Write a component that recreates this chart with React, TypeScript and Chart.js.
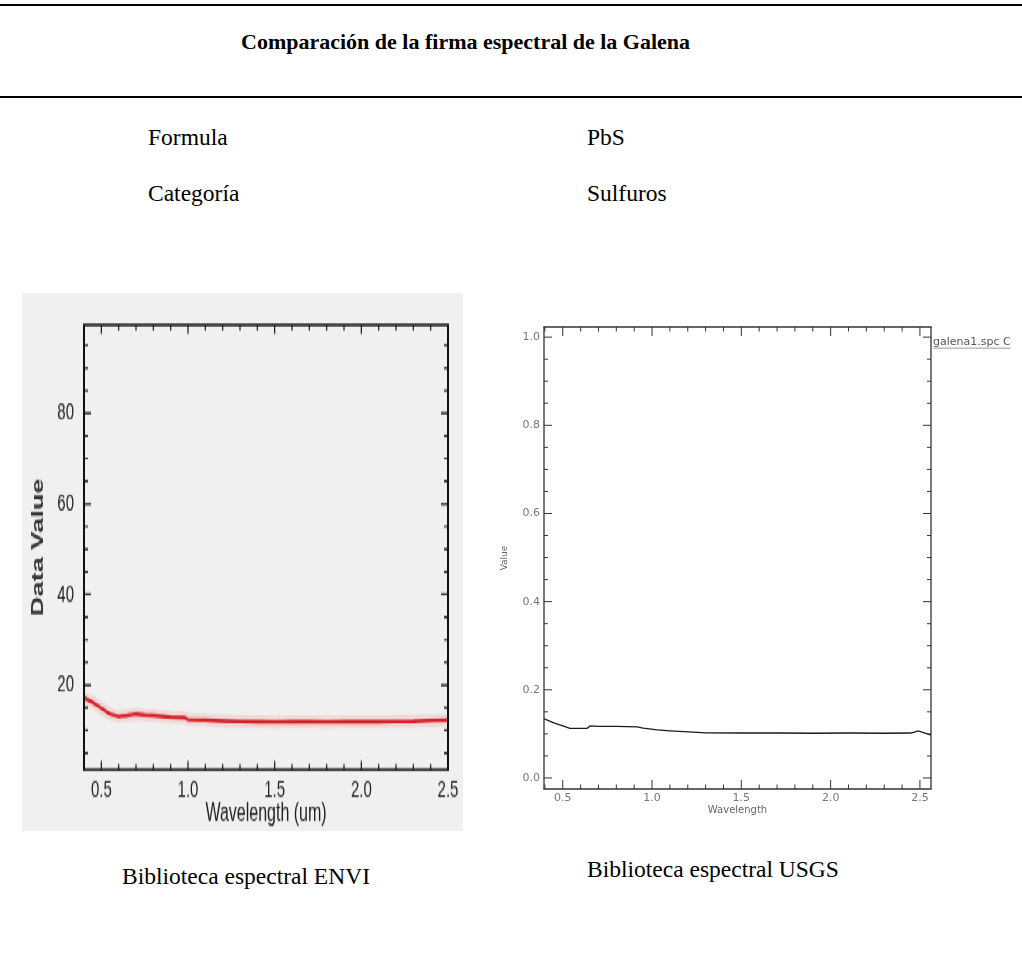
import React, { useEffect, useRef } from 'react';
import { Chart, registerables } from 'chart.js';

Chart.register(...registerables);

// ---------- Data: ENVI spectral library (left) ----------
const enviWavelength = [0.40, 0.45, 0.50, 0.55, 0.60, 0.65, 0.70, 0.75, 0.80, 0.90, 0.98, 1.00, 1.10, 1.20, 1.30, 1.40, 1.50, 1.60, 1.70, 1.80, 1.90, 2.00, 2.10, 2.20, 2.30, 2.40, 2.50];
const enviValue = [17.2, 16.2, 14.9, 13.6, 13.1, 13.3, 13.6, 13.4, 13.3, 12.9, 12.8, 12.4, 12.3, 12.1, 11.95, 11.9, 11.85, 11.9, 11.9, 11.85, 11.9, 11.9, 11.9, 11.95, 12.0, 12.2, 12.3];
const enviXTicks = [0.5, 1.0, 1.5, 2.0, 2.5];
const enviYTicks = [20, 40, 60, 80];

// ---------- Data: USGS spectral library (right) ----------
const usgsWavelength = [0.395, 0.42, 0.45, 0.50, 0.54, 0.60, 0.636, 0.654, 0.70, 0.80, 0.917, 0.95, 1.03, 1.10, 1.18, 1.30, 1.50, 1.70, 1.90, 2.10, 2.30, 2.45, 2.49, 2.52, 2.562];
const usgsValue = [0.134, 0.130, 0.125, 0.118, 0.1125, 0.1125, 0.1125, 0.118, 0.117, 0.117, 0.116, 0.113, 0.109, 0.107, 0.105, 0.1025, 0.102, 0.102, 0.1015, 0.102, 0.1015, 0.102, 0.107, 0.103, 0.097];
const usgsXTicks = [0.5, 1.0, 1.5, 2.0, 2.5];
const usgsYTicks = [0.0, 0.2, 0.4, 0.6, 0.8, 1.0];

const range = (a: number, b: number, s: number) => {
  const out: number[] = [];
  for (let v = a; v <= b + 1e-9; v += s) out.push(Math.round(v * 1000) / 1000);
  return out;
};

const frameTicksPlugin = {
  id: 'frameTicks',
  afterDraw(chart: any, _args: any, o: any) {
    const { ctx, chartArea: a, scales } = chart;
    const xs = scales.x, ys = scales.y;
    ctx.save();
    ctx.strokeStyle = o.color;
    ctx.lineWidth = o.tickWidth;
    ctx.beginPath();
    const isMajor = (v: number, arr: number[]) => arr.some((m) => Math.abs(m - v) < 1e-6);
    for (const v of o.xMinor) {
      const px = xs.getPixelForValue(v);
      const len = isMajor(v, o.xMajor) ? o.xMajorLen : o.xMinorLen;
      ctx.moveTo(px, a.bottom); ctx.lineTo(px, a.bottom - len);
      ctx.moveTo(px, a.top); ctx.lineTo(px, a.top + len);
    }
    for (const v of o.yMinor) {
      const py = ys.getPixelForValue(v);
      const len = isMajor(v, o.yMajor) ? o.yMajorLen : o.yMinorLen;
      ctx.moveTo(a.left, py); ctx.lineTo(a.left + len, py);
      ctx.moveTo(a.right, py); ctx.lineTo(a.right - len, py);
    }
    ctx.stroke();
    // frame
    ctx.beginPath();
    ctx.lineWidth = o.frameV;
    ctx.moveTo(a.left, a.top); ctx.lineTo(a.left, a.bottom);
    ctx.moveTo(a.right, a.top); ctx.lineTo(a.right, a.bottom);
    ctx.stroke();
    ctx.beginPath();
    ctx.lineWidth = o.frameH;
    ctx.moveTo(a.left - o.frameV / 2, a.top); ctx.lineTo(a.right + o.frameV / 2, a.top);
    ctx.moveTo(a.left - o.frameV / 2, a.bottom); ctx.lineTo(a.right + o.frameV / 2, a.bottom);
    ctx.stroke();
    if (o.legendText) {
      ctx.font = o.legendFont;
      ctx.fillStyle = o.legendColor;
      ctx.textAlign = 'left';
      ctx.textBaseline = 'middle';
      const lx = a.right + 2;
      const ly = ys.getPixelForValue(1.0) + 5;
      ctx.fillText(o.legendText, lx, ly);
      const w = ctx.measureText(o.legendText).width;
      ctx.strokeStyle = '#999';
      ctx.lineWidth = 1;
      ctx.beginPath();
      ctx.moveTo(lx, ly + 6); ctx.lineTo(lx + w, ly + 6);
      ctx.stroke();
    }
    ctx.restore();
  },
};

function EnviChart() {
  const ref = useRef<HTMLCanvasElement>(null);
  useEffect(() => {
    const pts = enviWavelength.map((x, i) => ({ x, y: enviValue[i] }));
    const tickFont = { family: '"Liberation Sans", Arial, sans-serif', size: 15 };
    const chart = new Chart(ref.current as HTMLCanvasElement, {
      type: 'line',
      data: {
        datasets: [
          { data: pts, borderColor: 'rgba(255,80,80,0.14)', borderWidth: 8, pointRadius: 0 },
          { data: pts, borderColor: '#cc1b22', borderWidth: 2.4, pointRadius: 0 },
          { data: pts, borderColor: '#3a1212', borderWidth: 1.1, pointRadius: 0 },
        ],
      },
      options: {
        animation: false,
        responsive: false,
        maintainAspectRatio: false,
        layout: { padding: { top: 20, right: 15, left: 0, bottom: 0 } },
        plugins: {
          legend: { display: false },
          tooltip: { enabled: false },
          frameTicks: {
            color: '#111', tickWidth: 1.2, frameV: 2, frameH: 1.3,
            xMinor: range(0.4, 2.5, 0.1), xMajor: enviXTicks, xMajorLen: 5.5, xMinorLen: 3.5,
            yMinor: range(5, 95, 5), yMajor: enviYTicks, yMajorLen: 7, yMinorLen: 4,
          },
        } as any,
        scales: {
          x: {
            type: 'linear', min: 0.4, max: 2.5,
            grid: { display: false, drawTicks: false }, border: { display: false },
            afterBuildTicks: (s: any) => { s.ticks = enviXTicks.map((v) => ({ value: v })); },
            afterFit: (s: any) => { s.height = 38; },
            ticks: { padding: 4, color: '#222', font: tickFont, maxRotation: 0, callback: (v: any) => Number(v).toFixed(1) },
            title: { display: true, text: 'Wavelength (um)', color: '#222', font: { family: '"Liberation Sans", Arial, sans-serif', size: 16 }, padding: { top: 0, bottom: 1 } },
          },
          y: {
            type: 'linear', min: 1.3, max: 99.5,
            grid: { display: false, drawTicks: false }, border: { display: false },
            afterBuildTicks: (s: any) => { s.ticks = enviYTicks.map((v) => ({ value: v })); },
            afterFit: (s: any) => { s.width = 62; },
            ticks: { padding: 10, color: '#222', font: tickFont },
            title: { display: true, text: 'Data Value', color: '#333', font: { family: '"Liberation Sans", Arial, sans-serif', size: 17, weight: 'bold' }, padding: { top: 6, bottom: 0 } },
          },
        },
      },
      plugins: [frameTicksPlugin],
    } as any);
    return () => chart.destroy();
  }, []);
  return (
    <div style={{ position: 'absolute', left: 22, top: 293, width: 441, height: 336, background: '#f0f0f0', transform: 'scaleY(1.6)', transformOrigin: 'top left' }}>
      <canvas ref={ref} width={441} height={336} />
    </div>
  );
}

function UsgsChart() {
  const ref = useRef<HTMLCanvasElement>(null);
  useEffect(() => {
    const pts = usgsWavelength.map((x, i) => ({ x, y: usgsValue[i] }));
    const f = '"DejaVu Sans", Verdana, sans-serif';
    const chart = new Chart(ref.current as HTMLCanvasElement, {
      type: 'line',
      data: {
        datasets: [{ data: pts, borderColor: '#1a1a1a', borderWidth: 1.3, pointRadius: 0 }],
      },
      options: {
        animation: false,
        responsive: false,
        maintainAspectRatio: false,
        layout: { padding: { top: 27, right: 91, left: 0, bottom: 0 } },
        plugins: {
          legend: { display: false },
          tooltip: { enabled: false },
          frameTicks: {
            color: '#333', tickWidth: 1, frameV: 1.3, frameH: 1.3,
            xMinor: range(0.4, 2.5, 0.1), xMajor: usgsXTicks, xMajorLen: 9, xMinorLen: 4.5,
            yMinor: range(0, 1.0, 0.05), yMajor: usgsYTicks, yMajorLen: 8, yMinorLen: 4,
            legendText: 'galena1.spc C', legendFont: '11px "DejaVu Sans", sans-serif', legendColor: '#555',
          },
        } as any,
        scales: {
          x: {
            type: 'linear', min: 0.395, max: 2.562,
            grid: { display: false, drawTicks: false }, border: { display: false },
            afterBuildTicks: (s: any) => { s.ticks = usgsXTicks.map((v) => ({ value: v })); },
            afterFit: (s: any) => { s.height = 41; },
            ticks: { padding: 3, color: '#777', font: { family: f, size: 11 }, maxRotation: 0, callback: (v: any) => Number(v).toFixed(1) },
            title: { display: true, text: 'Wavelength', color: '#666', font: { family: f, size: 10 }, padding: { top: 0, bottom: 14 } },
          },
          y: {
            type: 'linear', min: -0.025, max: 1.023,
            grid: { display: false, drawTicks: false }, border: { display: false },
            afterBuildTicks: (s: any) => { s.ticks = usgsYTicks.map((v) => ({ value: v })); },
            afterFit: (s: any) => { s.width = 54; },
            ticks: { padding: 4, color: '#777', font: { family: f, size: 11 }, callback: (v: any) => Number(v).toFixed(1) },
            title: { display: true, text: 'Value', color: '#666', font: { family: f, size: 9 }, padding: { top: 9, bottom: 0 } },
          },
        },
      },
      plugins: [frameTicksPlugin],
    } as any);
    return () => chart.destroy();
  }, []);
  return (
    <div style={{ position: 'absolute', left: 490, top: 300, width: 532, height: 530 }}>
      <canvas ref={ref} width={532} height={530} />
    </div>
  );
}

const serif = '"Liberation Serif", "Times New Roman", serif';

function Txt(props: { x: number; y: number; text: string; bold?: boolean; size?: number }) {
  return (
    <div style={{ position: 'absolute', left: props.x, top: props.y, fontFamily: serif, fontSize: props.size ?? 23.5, fontWeight: props.bold ? 'bold' : 'normal', lineHeight: 1, whiteSpace: 'nowrap', color: '#000' }}>
      {props.text}
    </div>
  );
}

export default function App() {
  return (
    <div style={{ position: 'absolute', left: 0, top: 0, width: 1022, height: 956, background: '#fff', overflow: 'hidden' }}>
      <div style={{ position: 'absolute', left: 0, top: 4, width: 1022, height: 2, background: '#000' }} />
      <Txt x={241} y={31} text="Comparación de la firma espectral de la Galena" bold size={22} />
      <div style={{ position: 'absolute', left: 0, top: 96, width: 1022, height: 2, background: '#000' }} />
      <Txt x={148} y={126} text="Formula" />
      <Txt x={587} y={126} text="PbS" />
      <Txt x={148} y={182} text="Categoría" />
      <Txt x={587} y={182} text="Sulfuros" />
      <EnviChart />
      <UsgsChart />
      <Txt x={122} y={865} text="Biblioteca espectral ENVI" />
      <Txt x={587} y={858} text="Biblioteca espectral USGS" />
    </div>
  );
}
